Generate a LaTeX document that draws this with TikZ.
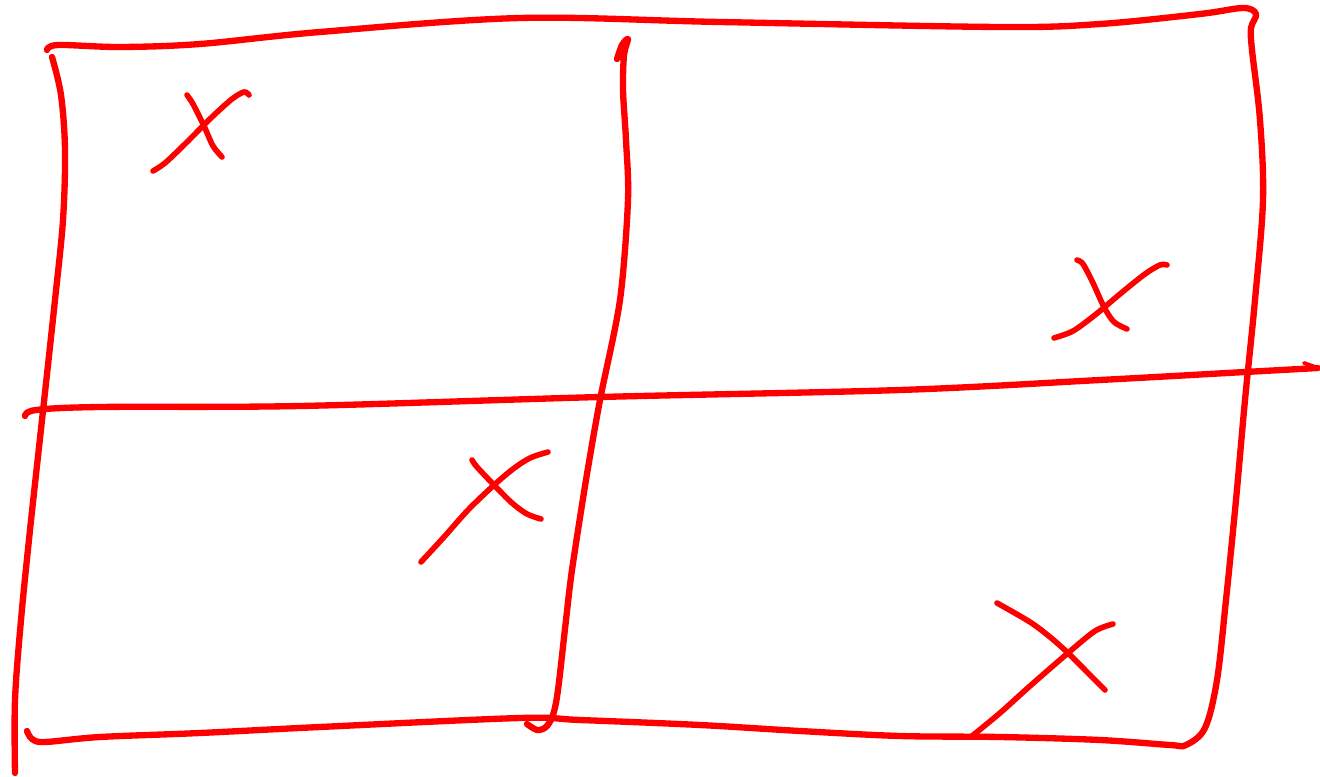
\documentclass[tikz,border=0pt]{standalone}
\begin{document}
\begin{tikzpicture}[x=0.02cm,y=-0.02cm,
  pen/.style={red,line width=3.6pt,line cap=round,line join=round},
  cross/.style={red,line width=3.2pt,line cap=round}]
\useasboundingbox (0,0) rectangle (1320,777);

% outer frame, top and right and bottom in one stroke
\draw[pen] plot[smooth,tension=0.55] coordinates {(47,50) (58,45) (120,47) (200,44) (320,32) (520,18) (720,22) (1000,27) (1100,24) (1200,14) (1243,8) (1256,14) (1251,28) (1252,50) (1260,120) (1263,200) (1255,300) (1245,400) (1236,500) (1226,600) (1217,680) (1205,728) (1186,745) (1170,745) (1100,740) (1000,737) (900,736) (800,731) (700,725) (580,720) (520,718) (320,727) (200,733) (100,737) (45,742) (32,739) (27,731)};
% left side
\draw[pen] plot[smooth,tension=0.55] coordinates {(52,57) (61,95) (65,150) (63,220) (55,300) (42,420) (30,530) (21,620) (15,700) (15,773)};
% middle vertical
\draw[pen] plot[smooth,tension=0.5] coordinates {(617,59) (622,45) (628,39) (624,55) (623,90) (626,140) (628,200) (620,300) (600,400) (586,480) (572,570) (566,620) (558,690) (553,715) (546,727) (537,730) (527,724)};
% middle horizontal
\draw[pen] plot[smooth,tension=0.55] coordinates {(25,416) (36,410) (100,407) (300,406) (600,397) (900,390) (1100,380) (1245,372) (1318,368)};
\draw[red,line width=2.2pt,line cap=round] (1304,363) -- (1318,368);

% crosses
\draw[cross] plot[smooth] coordinates {(187,95) (193,104) (204,126) (213,146) (222,157)};
\draw[cross] plot[smooth] coordinates {(249,95) (244,92) (232,99) (212,117) (185,144) (165,163) (153,171)};

\draw[cross] plot[smooth] coordinates {(1077,260) (1083,264) (1093,283) (1104,307) (1114,322) (1127,329)};
\draw[cross] plot[smooth] coordinates {(1167,265) (1160,265) (1145,274) (1120,294) (1095,315) (1073,331) (1054,338)};

\draw[cross] plot[smooth] coordinates {(472,460) (477,467) (494,485) (512,503) (527,514) (541,519)};
\draw[cross] plot[smooth] coordinates {(548,452) (530,458) (513,469) (493,486) (468,510) (444,537) (421,562)};

\draw[cross] plot[smooth] coordinates {(997,603) (1030,622) (1050,637) (1068,653) (1088,673) (1105,690)};
\draw[cross] plot[smooth] coordinates {(1113,624) (1095,631) (1068,653) (1030,686) (1000,713) (972,736)};
\end{tikzpicture}
\end{document}
